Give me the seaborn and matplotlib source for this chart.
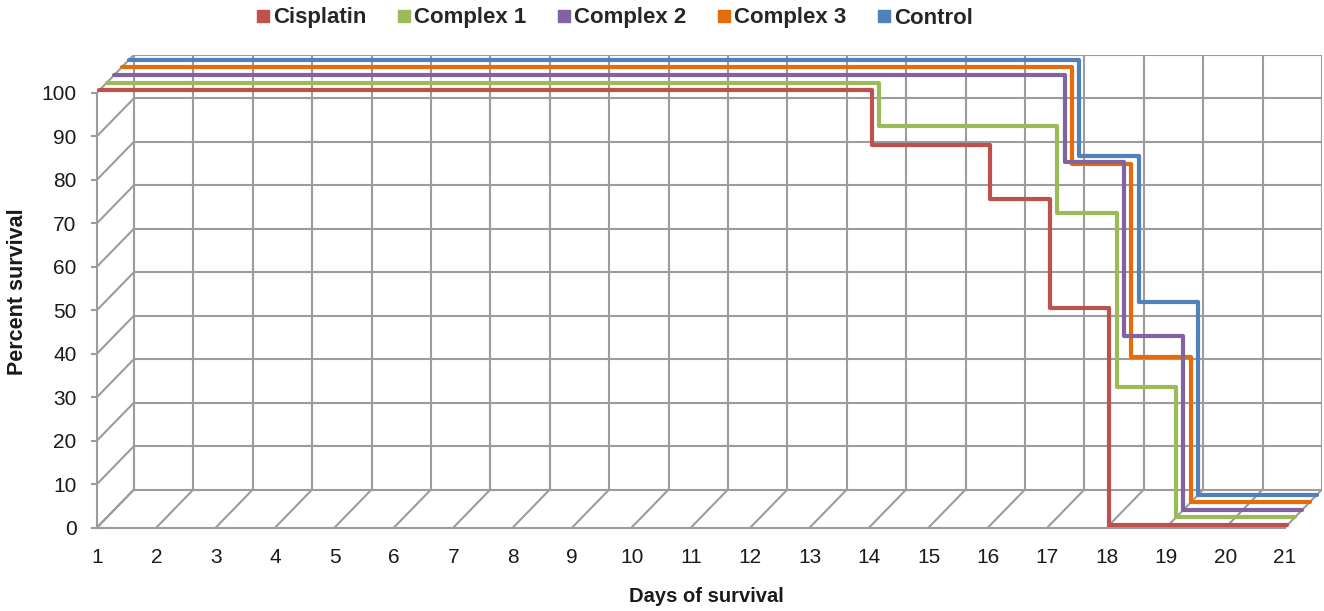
import matplotlib
matplotlib.use("Agg")
import matplotlib.pyplot as plt
import pandas as pd
import seaborn as sns
from matplotlib.lines import Line2D
from matplotlib.transforms import offset_copy

# Axis ticks
day_ticks = list(range(1, 22))
pct_ticks = list(range(0, 101, 10))

# Kaplan-Meier style survival steps (day of change -> percent surviving)
series_names = ["Cisplatin", "Complex 1", "Complex 2", "Complex 3", "Control"]
cisplatin_days = [1, 14, 16, 17, 18, 21]
cisplatin_surv = [100, 87.5, 75, 50, 0, 0]
complex1_days = [1, 14, 17, 18, 19, 21]
complex1_surv = [100, 90, 70, 30, 0, 0]
complex2_days = [1, 17, 18, 19, 21]
complex2_surv = [100, 80, 40, 0, 0]
complex3_days = [1, 17, 18, 19, 21]
complex3_surv = [100, 77.8, 33.3, 0, 0]
control_days = [1, 17, 18, 19, 21]
control_surv = [100, 77.8, 44.4, 0, 0]

all_days = [cisplatin_days, complex1_days, complex2_days, complex3_days, control_days]
all_surv = [cisplatin_surv, complex1_surv, complex2_surv, complex3_surv, control_surv]
colors = ["#C0504D", "#9BBB59", "#8064A2", "#E46C0A", "#4F81BD"]

sns.set_theme(style="white")
plt.rcParams["font.family"] = ["Liberation Sans", "DejaVu Sans"]

W, H, DPI = 1324, 611, 100
fig = plt.figure(figsize=(W / DPI, H / DPI), dpi=DPI)
ax = fig.add_axes([97 / W, (H - 527.5) / H, 1225 / W, (527.5 - 54.7) / H])

# depth of the pseudo-3D box, in pixels and in data units
DX_PX, DY_PX = 37.0, 38.0
px_per_day = (1285 - 97) / 20.0
px_per_pct = (527.5 - 92.7) / 100.0
DX = DX_PX / px_per_day
DY = DY_PX / px_per_pct

ax.set_xlim(1, 21 + DX)
ax.set_ylim(0, 100 + DY)

grid_c = "#9c9c9c"
grid_lw = 1.5
for v in pct_ticks:
    ax.plot([1 + DX, 21 + DX], [v + DY, v + DY], color=grid_c, lw=grid_lw, zorder=1)
    ax.plot([1, 1 + DX], [v, v + DY], color=grid_c, lw=grid_lw, zorder=1)
for d in day_ticks:
    ax.plot([d + DX, d + DX], [DY, 100 + DY], color=grid_c, lw=grid_lw, zorder=1)
    ax.plot([d, d + DX], [0, DY], color=grid_c, lw=grid_lw, zorder=1)

# survival lines, drawn back to front, each shifted to its own depth slot
for i in reversed(range(len(series_names))):
    df = pd.DataFrame({"day": all_days[i], "survival": all_surv[i]})
    frac = (2.5 + 7.6 * i) / DY_PX
    tr = offset_copy(ax.transData, fig=fig, x=frac * DX_PX, y=frac * DY_PX, units="dots")
    sns.lineplot(data=df, x="day", y="survival", ax=ax, color=colors[i], lw=3.0,
                 drawstyle="steps-post", estimator=None, legend=False,
                 transform=tr, zorder=3 + (5 - i), solid_joinstyle="round")

for s in ["top", "right"]:
    ax.spines[s].set_visible(False)
for s in ["left", "bottom"]:
    ax.spines[s].set_color(grid_c)
    ax.spines[s].set_linewidth(grid_lw)
ax.spines["left"].set_bounds(0, 100)
ax.spines["bottom"].set_bounds(1, 21)

ax.set_xticks(day_ticks)
ax.set_xticklabels([str(d) for d in day_ticks])
ax.set_yticks(pct_ticks)
ax.set_yticklabels([str(v) for v in pct_ticks])
ax.tick_params(axis="y", length=4.3, width=grid_lw, color=grid_c, pad=10.5,
               labelsize=15, labelcolor="#1a1a1a", left=True)
ax.tick_params(axis="x", length=0, pad=14.5, labelsize=15, labelcolor="#1a1a1a")
ax.set_xlabel("")
ax.set_ylabel("")

fig.text(18 / W, 1 - 292 / H, "Percent survival", rotation=90, ha="center", va="center",
         fontsize=15.5, fontweight="bold", color="#1a1a1a")
fig.text(706 / W, 1 - 597 / H, "Days of survival", ha="center", va="center",
         fontsize=14.5, fontweight="bold", color="#1a1a1a")

handles = [Line2D([], [], marker="s", ls="", color=c, markersize=8.6) for c in colors]
fig.legend(handles, series_names, loc="center", bbox_to_anchor=(613.5 / W, 1 - 18 / H),
           ncol=5, frameon=False, prop={"weight": "bold", "size": 16},
           handletextpad=0.05, columnspacing=1.3, handlelength=0.8)

fig.savefig("out.png", dpi=DPI)
